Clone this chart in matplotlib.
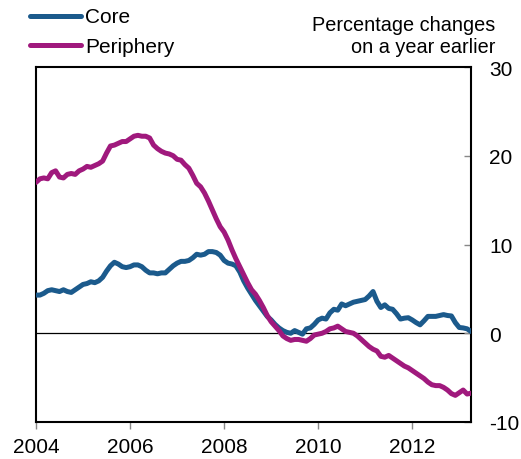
import numpy as np
import matplotlib
matplotlib.use("Agg")
import matplotlib.pyplot as plt
from matplotlib.lines import Line2D

plt.rcParams['font.family'] = ['Liberation Sans', 'DejaVu Sans']

start_year = 2004
core = [4.3, 4.3, 4.5, 4.8, 4.9, 4.8, 4.7, 4.9, 4.7, 4.6, 4.9, 5.2,
        5.5, 5.6, 5.8, 5.7, 5.9, 6.3, 7.0, 7.6, 8.0, 7.8, 7.5, 7.4,
        7.5, 7.7, 7.7, 7.5, 7.1, 6.8, 6.8, 6.7, 6.8, 6.8, 7.2, 7.6,
        7.9, 8.1, 8.1, 8.2, 8.5, 8.9, 8.8, 8.9, 9.2, 9.2, 9.1, 8.8,
        8.2, 7.9, 7.8, 7.6, 6.9, 5.9, 5.1, 4.4, 3.7, 3.1, 2.5, 1.9,
        1.5, 1.0, 0.6, 0.3, 0.1, 0.0, 0.3, 0.1, -0.1, 0.5, 0.6, 1.0,
        1.5, 1.7, 1.6, 2.3, 2.7, 2.6, 3.3, 3.1, 3.3, 3.5, 3.6, 3.7,
        3.8, 4.2, 4.7, 3.6, 2.9, 3.2, 2.8, 2.7, 2.2, 1.6, 1.7, 1.75,
        1.5, 1.2, 0.95, 1.4, 1.9, 1.9, 1.9, 2.0, 2.1, 2.0, 1.95, 1.2,
        0.65, 0.6, 0.5, 0.2]
periphery = [17.0, 17.4, 17.5, 17.4, 18.1, 18.3, 17.6, 17.5, 17.9, 18.0, 17.9, 18.3,
             18.5, 18.8, 18.7, 18.9, 19.1, 19.4, 20.3, 21.1, 21.2, 21.4, 21.6, 21.6,
             21.9, 22.2, 22.3, 22.2, 22.2, 22.0, 21.2, 20.8, 20.5, 20.3, 20.2, 20.0,
             19.6, 19.5, 19.0, 18.6, 17.8, 16.9, 16.5, 15.8, 14.9, 13.9, 12.9, 12.0,
             11.4, 10.5, 9.4, 8.4, 7.5, 6.6, 5.7, 4.9, 4.4, 3.7, 2.9, 2.0,
             1.3, 0.8, 0.3, -0.3, -0.6, -0.8, -0.7, -0.7, -0.8, -0.9, -0.6, -0.2,
             -0.1, 0.0, 0.2, 0.5, 0.6, 0.8, 0.5, 0.2, 0.1, 0.0, -0.3, -0.7,
             -1.1, -1.5, -1.8, -2.0, -2.6, -2.7, -2.5, -2.8, -3.1, -3.4, -3.7, -3.9,
             -4.2, -4.5, -4.8, -5.1, -5.5, -5.8, -5.9, -5.9, -6.1, -6.4, -6.8, -7.0,
             -6.7, -6.4, -6.85, -6.75]
series_names = ["Core", "Periphery"]
colors = ["#1B5A8C", "#A0197D"]
xticks = [2004, 2006, 2008, 2010, 2012]
yticks = [-10, 0, 10, 20, 30]
unit_lines = ["Percentage changes", "on a year earlier"]

t = start_year + np.arange(len(core)) / 12.0

fig = plt.figure(figsize=(5.21, 4.60), dpi=100)
ax = fig.add_axes([36 / 521, 37 / 460, 435 / 521, 355 / 460])

ax.axhline(0, color="black", lw=0.9, zorder=1)
for vals, c in zip([core, periphery], colors):
    ax.plot(t, vals, color=c, lw=3.6, solid_capstyle="round", zorder=3)

ax.set_xlim(start_year, t[-1])
ax.set_ylim(-10, 30)
ax.set_xticks(xticks)
ax.set_xticklabels([str(x) for x in xticks])
ax.set_yticks(yticks)
ax.set_yticklabels([str(y) for y in yticks])
ax.yaxis.tick_right()
ax.tick_params(axis="x", direction="out", length=5, width=1.0, color="#888888",
               labelsize=15, pad=6)
ax.tick_params(axis="y", direction="in", length=5, width=1.0, color="#888888",
               labelsize=15, pad=13, left=False, right=True)
for lab in ax.get_yticklabels():
    lab.set_horizontalalignment("left")
for s in ax.spines.values():
    s.set_linewidth(1.5)

# legend
leg_y = [16.7, 46.0]
leg_base = [23.3, 53.3]
for i, (name, c) in enumerate(zip(series_names, colors)):
    y = 1 - leg_y[i] / 460
    fig.add_artist(Line2D([30 / 521, 81 / 521], [y, y], color=c, lw=3.6,
                          solid_capstyle="round", transform=fig.transFigure))
    fig.text(85 / 521, 1 - leg_base[i] / 460, name, fontsize=15, va="baseline", ha="left")

for line, base in zip(unit_lines, [30.7, 53.3]):
    fig.text(495 / 521, 1 - base / 460, line, fontsize=14.3, ha="right", va="baseline")

fig.savefig("out.png", dpi=100)
